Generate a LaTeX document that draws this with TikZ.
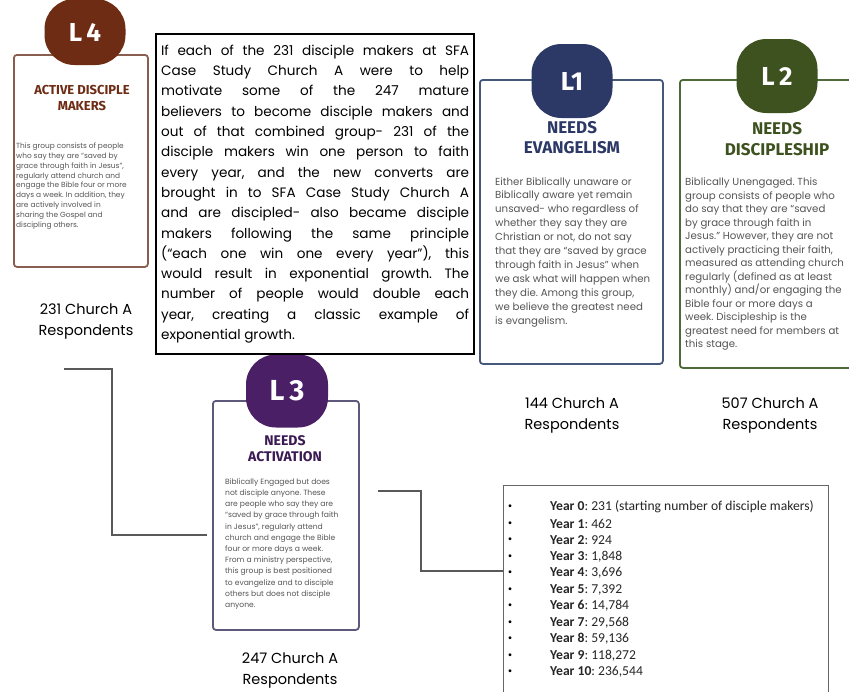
\documentclass[tikz,border=0pt]{standalone}
\usepackage{fontspec}
\setmainfont{Poppins}
\newfontfamily\cardfont{Fira Sans}
\newfontfamily\yearfont{Carlito}
\usepackage{xcolor}
\usepackage{tikz}
\usetikzlibrary{positioning, calc}
\frenchspacing
\definecolor{lfour}{HTML}{6E2C14}
\definecolor{lfourline}{HTML}{8A5E4E}
\definecolor{lone}{HTML}{2C3966}
\definecolor{loneline}{HTML}{465879}
\definecolor{ltwo}{HTML}{3E5220}
\definecolor{ltwoline}{HTML}{4E6A38}
\definecolor{lthree}{HTML}{4A1F66}
\definecolor{lthreeline}{HTML}{5E587A}
\definecolor{bodygray}{HTML}{555555}

\begin{document}
\begin{tikzpicture}[x=1pt, y=-1pt,
    card/.style={draw, rounded corners=3pt, line width=1.8pt, fill=white,
                 anchor=north west, inner sep=0pt},
    badge/.style={rounded corners=30pt, minimum width=81pt, minimum height=74pt,
                  inner sep=0pt, text=white, font=\cardfont\bfseries\fontsize{26}{28}\selectfont},
    ttl/.style={align=center, inner sep=0pt},
    body/.style={align=left, anchor=west, inner sep=0pt, text=bodygray},
    resp/.style={align=center, inner sep=0pt, font=\fontsize{14.5}{21}\selectfont},
    conn/.style={draw=black!65, line width=1.6pt},
]
    \useasboundingbox[fill=white] (0,0) rectangle (849,691);

    % level cards
    \node[card, draw=lfourline, minimum width=134pt, minimum height=212pt] (l4card) at (13,54) {};
    \node[card, draw=loneline, minimum width=183pt, minimum height=284pt] (l1card) at (479,79) {};
    \node[card, draw=ltwoline, minimum width=182pt, minimum height=288pt] (l2card) at (679,79) {};
    \node[card, draw=lthreeline, minimum width=146pt, minimum height=229pt] (l3card) at (212,400) {};

    % badges
    \node[badge, fill=lfour, minimum height=66pt] (l4) at (85,32) {L\,4};
    \node[badge, fill=lone] (l1) at (572,81) {L1};
    \node[badge, fill=ltwo] (l2) at (777,76) {L\,2};
    \node[badge, fill=lthree, minimum width=82pt, minimum height=73pt,
          font=\cardfont\bfseries\fontsize{29}{30}\selectfont] (l3) at (287,391) {L\,3};

    % titles
    \node[ttl, text=lfour, font=\cardfont\bfseries\fontsize{13}{15.5}\selectfont] (l4ttl) at (82,98)
        {ACTIVE DISCIPLE\\MAKERS};
    \node[ttl, text=lone, font=\cardfont\bfseries\fontsize{17}{20}\selectfont] (l1ttl) at (572,138)
        {NEEDS\\EVANGELISM};
    \node[ttl, text=ltwo, font=\cardfont\bfseries\fontsize{17}{21}\selectfont] (l2ttl) at (777,139)
        {NEEDS\\DISCIPLESHIP};
    \node[ttl, text=lthree!80!black, font=\cardfont\bfseries\fontsize{14}{16}\selectfont] (l3ttl) at (285,449)
        {NEEDS\\ACTIVATION};

    % descriptions
    \node[body, font=\fontsize{7.4}{9.8}\selectfont] (l4txt) at (16,186)
        {This group consists of people\\who say they are ``saved by\\grace through faith in Jesus'',\\regularly attend church and\\engage the Bible four or more\\days a week. In addition, they\\are actively involved in\\sharing the Gospel and\\discipling others.};
    \node[body, font=\fontsize{10.2}{13.9}\selectfont] (l1txt) at (495,252)
        {Either Biblically unaware or\\Biblically aware yet remain\\unsaved- who regardless of\\whether they say they are\\Christian or not, do not say\\that they are ``saved by grace\\through faith in Jesus'' when\\we ask what will happen when\\they die. Among this group,\\we believe the greatest need\\is evangelism.};
    \node[body, font=\fontsize{10.2}{13.5}\selectfont] (l2txt) at (685,264)
        {Biblically Unengaged. This\\group consists of people who\\do say that they are ``saved\\by grace through faith in\\Jesus.'' However, they are not\\actively practicing their faith,\\measured as attending church\\regularly (defined as at least\\monthly) and/or engaging the\\Bible four or more days a\\week. Discipleship is the\\greatest need for members at\\this stage.};
    \node[body, font=\fontsize{7.6}{11.2}\selectfont] (l3txt) at (225,544)
        {Biblically Engaged but does\\not disciple anyone. These\\are people who say they are\\``saved by grace through faith\\in Jesus'', regularly attend\\church and engage the Bible\\four or more days a week.\\From a ministry perspective,\\this group is best positioned\\to evangelize and to disciple\\others but does not disciple\\anyone.};

    % respondent counts
    \node[resp] (r231) at (86,322) {231 Church A\\Respondents};
    \node[resp] (r144) at (572,416) {144 Church A\\Respondents};
    \node[resp] (r507) at (770,416) {507 Church A\\Respondents};
    \node[resp] (r247) at (290,671) {247 Church A\\Respondents};

    % growth explanation
    \node[draw, line width=2.2pt, anchor=north west, minimum height=320pt,
          text width=308pt, inner xsep=5pt, align=justify,
          font=\fontsize{13.6}{20.3}\selectfont] (growth) at (155,33)
        {If each of the 231 disciple makers at SFA\linebreak
         Case Study Church A were to help\linebreak
         motivate some of the 247 mature\linebreak
         believers to become disciple makers and\linebreak
         out of that combined group- 231 of the\linebreak
         disciple makers win one person to faith\linebreak
         every year, and the new converts are\linebreak
         brought in to SFA Case Study Church A\linebreak
         and are discipled- also became disciple\linebreak
         makers following the same principle\linebreak
         (``each one win one every year''), this\linebreak
         would result in exponential growth. The\linebreak
         number of people would double each\linebreak
         year, creating a classic example of\linebreak
         exponential growth.};

    % yearly numbers
    \node[draw=black!60, line width=1.3pt, anchor=north west, minimum width=325pt,
          minimum height=220pt] (years) at (503,485) {};
    \foreach \n/\val in {0/{231 (starting number of disciple makers)}, 1/462, 2/924,
        3/{1,848}, 4/{3,696}, 5/{7,392}, 6/{14,784}, 7/{29,568}, 8/{59,136},
        9/{118,272}, 10/{236,544}} {
        \node[font=\yearfont\fontsize{8}{8}\selectfont, inner sep=0pt] (yb\n) at (510,{507+16.5*\n}) {\textbullet};
        \node[font=\yearfont\fontsize{13.6}{14}\selectfont, text=black!85, anchor=west, inner sep=0pt]
            (yr\n) at (550,{507+16.5*\n}) {\textbf{Year \n}: \val};
    }

    % connectors
    \coordinate (c1a) at (64,369);
    \coordinate (c1b) at (207,535);
    \coordinate (c2a) at (378,491);
    \coordinate (c2b) at (503,571);
    \draw[conn] (c1a) -- ++(48,0) |- (c1b);
    \draw[conn] (c2a) -- ++(43,0) |- (c2b);
\end{tikzpicture}
\end{document}
